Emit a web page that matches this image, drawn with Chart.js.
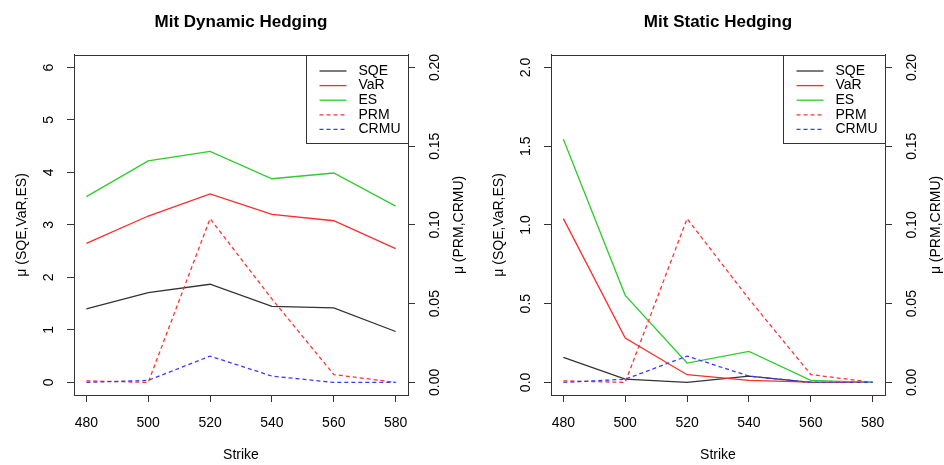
<!DOCTYPE html>
<html>
<head>
<meta charset="utf-8">
<script src="https://cdn.jsdelivr.net/npm/chart.js@4.4.0/dist/chart.umd.min.js"></script>
<style>
html, body { margin: 0; padding: 0; background: #fff; }
#wrap { position: relative; width: 944px; height: 465px; }
canvas { position: absolute; top: 0; }
</style>
</head>
<body>
<div id="wrap">
  <canvas id="dyn" width="472" height="465" style="left:0"></canvas>
  <canvas id="sta" width="472" height="465" style="left:472px"></canvas>
</div>
<script>
// strikes and series names
var strikes = [480, 500, 520, 540, 560, 580];
var seriesNames = ['SQE', 'VaR', 'ES', 'PRM', 'CRMU'];

// Mit Dynamic Hedging
var dynSQE  = [1.40, 1.71, 1.87, 1.45, 1.42, 0.97];
var dynVaR  = [2.65, 3.17, 3.59, 3.20, 3.08, 2.55];
var dynES   = [3.54, 4.22, 4.40, 3.88, 3.99, 3.36];
var dynPRM  = [0.001, 0.000, 0.104, 0.053, 0.005, 0.000];
var dynCRMU = [0.000, 0.0013, 0.0167, 0.004, 0.000, 0.000];

// Mit Static Hedging
var staSQE  = [0.159, 0.021, 0.000, 0.040, 0.000, 0.000];
var staVaR  = [1.04, 0.282, 0.049, 0.013, 0.002, 0.000];
var staES   = [1.545, 0.553, 0.123, 0.197, 0.013, 0.000];
var staPRM  = [0.001, 0.000, 0.104, 0.053, 0.005, 0.000];
var staCRMU = [0.000, 0.002, 0.0167, 0.004, 0.000, 0.000];

// tick labels
var dynLeftTicks = ['0', '1', '2', '3', '4', '5', '6'];
var staLeftTicks = ['0.0', '0.5', '1.0', '1.5', '2.0'];
var rightTicks = ['0.00', '0.05', '0.10', '0.15', '0.20'];

var FONT = "'Liberation Sans', Arial, Helvetica, sans-serif";
var AXIS = '#333333';
var colors = ['#333333', '#ff2b2b', '#2dcc2d', '#ff3333', '#3b3bff'];
var dashes = [[], [], [], [4, 3], [4, 3]];

// R draws the axis labels rotated, and a framed legend in the top right corner
var rPanel = {
  id: 'rPanel',
  afterDraw: function(chart, args, opts) {
    var ctx = chart.ctx, ca = chart.chartArea;
    ctx.save();
    ctx.strokeStyle = AXIS;
    ctx.lineWidth = 1;
    var l = Math.round(ca.left) + 0.5, t = Math.round(ca.top) + 0.5;
    var r = Math.round(ca.right) + 0.5, b = Math.round(ca.bottom) + 0.5;
    ctx.strokeRect(l, t, r - l, b - t);

    ctx.fillStyle = '#000';
    ctx.font = '14px ' + FONT;
    ctx.textAlign = 'center';
    ctx.textBaseline = 'middle';
    function vtext(txt, x, y) {
      ctx.save();
      ctx.translate(x, y);
      ctx.rotate(-Math.PI / 2);
      ctx.fillText(txt, 0, 0);
      ctx.restore();
    }
    var y = chart.scales.y, y2 = chart.scales.y2;
    opts.leftTicks.forEach(function(s) { vtext(s, ca.left - 25, y.getPixelForValue(parseFloat(s))); });
    opts.rightTicks.forEach(function(s) { vtext(s, ca.right + 27, y2.getPixelForValue(parseFloat(s))); });
    var mid = (ca.top + ca.bottom) / 2;
    vtext(opts.leftTitle, ca.left - 52, mid);
    vtext(opts.rightTitle, ca.right + 51, mid);

    // legend
    var lw = 102, lh = 88;
    var lx = Math.round(ca.right - lw) + 0.5, ly = t;
    ctx.fillStyle = '#fff';
    ctx.fillRect(lx, ly, lw, lh);
    ctx.strokeStyle = AXIS;
    ctx.strokeRect(lx, ly, r - lx, lh);
    ctx.textAlign = 'left';
    chart.data.datasets.forEach(function(ds, i) {
      var yy = ly + 15.5 + i * 14.6;
      ctx.beginPath();
      ctx.strokeStyle = ds.borderColor;
      ctx.lineWidth = 1.3;
      ctx.setLineDash(ds.borderDash || []);
      ctx.moveTo(lx + 13, yy);
      ctx.lineTo(lx + 40, yy);
      ctx.stroke();
      ctx.setLineDash([]);
      ctx.fillStyle = '#000';
      ctx.fillText(ds.label, lx + 52, yy);
    });
    ctx.restore();
  }
};

function yAxis(pos, labels, width) {
  var vals = labels.map(parseFloat);
  var lo = vals[0], hi = vals[vals.length - 1], ext = (hi - lo) * 0.04;
  return {
    type: 'linear',
    position: pos,
    min: lo - ext,
    max: hi + ext,
    afterBuildTicks: function(s) { s.ticks = vals.map(function(v) { return {value: v}; }); },
    afterFit: function(s) { s.width = width; },
    ticks: {display: false},
    grid: {drawOnChartArea: false, drawTicks: true, tickLength: 7, color: AXIS},
    border: {display: true, color: AXIS}
  };
}

function makeChart(id, title, values, leftTicks, leftWidth, rightWidth) {
  return new Chart(document.getElementById(id).getContext('2d'), {
    type: 'line',
    data: {
      datasets: seriesNames.map(function(name, i) {
        return {
          label: name,
          data: strikes.map(function(s, j) { return {x: s, y: values[i][j]}; }),
          yAxisID: i < 3 ? 'y' : 'y2',
          borderColor: colors[i],
          borderWidth: 1.3,
          borderDash: dashes[i],
          pointRadius: 0,
          fill: false,
          tension: 0,
          order: 5 - i
        };
      })
    },
    options: {
      responsive: false,
      animation: false,
      devicePixelRatio: 1,
      layout: {padding: 0},
      scales: {
        x: {
          type: 'linear',
          position: 'bottom',
          min: 476,
          max: 584,
          afterBuildTicks: function(s) { s.ticks = strikes.map(function(v) { return {value: v}; }); },
          afterFit: function(s) { s.height = 70; },
          ticks: {font: {family: FONT, size: 14}, color: '#000', padding: 13, maxRotation: 0, autoSkip: false},
          grid: {drawOnChartArea: false, drawTicks: true, tickLength: 7, color: AXIS},
          border: {display: true, color: AXIS},
          title: {display: true, text: 'Strike', font: {family: FONT, size: 14}, color: '#000', padding: {top: 0, bottom: 1}}
        },
        y: yAxis('left', leftTicks, leftWidth),
        y2: yAxis('right', rightTicks, rightWidth)
      },
      plugins: {
        legend: {display: false},
        tooltip: {enabled: false},
        title: {
          display: true,
          fullSize: false,
          text: title,
          color: '#000',
          font: {family: FONT, size: 17, weight: 'bold'},
          padding: {top: 12, bottom: 22.5}
        },
        rPanel: {
          leftTicks: leftTicks,
          rightTicks: rightTicks,
          leftTitle: 'μ (SQE,VaR,ES)',
          rightTitle: 'μ (PRM,CRMU)'
        }
      }
    },
    plugins: [rPanel]
  });
}

makeChart('dyn', 'Mit Dynamic Hedging', [dynSQE, dynVaR, dynES, dynPRM, dynCRMU], dynLeftTicks, 74, 64);
makeChart('sta', 'Mit Static Hedging', [staSQE, staVaR, staES, staPRM, staCRMU], staLeftTicks, 79, 59);
</script>
</body>
</html>
